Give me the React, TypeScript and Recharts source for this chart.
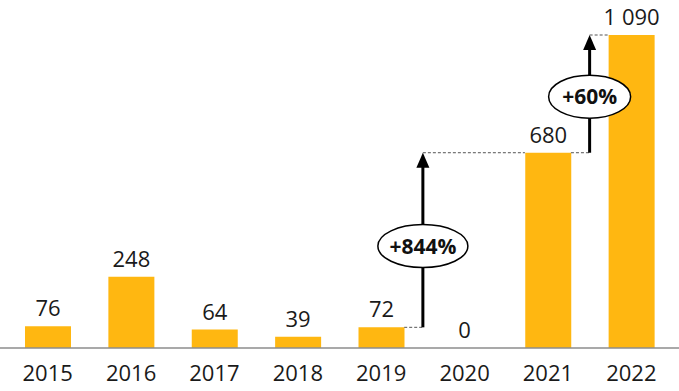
import React from 'react';
import { BarChart, Bar, XAxis, YAxis, LabelList, ReferenceLine, ReferenceDot } from 'recharts';

const years = ['2015', '2016', '2017', '2018', '2019', '2020', '2021', '2022'];
const values = [76, 248, 64, 39, 72, 0, 680, 1090];

// growth annotations
const growthLabels = ['+844%', '+60%'];
const growthFrom = [72, 680];
const growthTo = [680, 1090];
const growthX = [4.5, 6.5];
const growthLabelY = [355, 875];
const fromBarIdx = [4, 6];
const toBarIdx = [6, 7];

const data = years.map((y, i) => ({ year: y, idx: i, value: values[i] }));

const BAR = 46;
const CHART_W = 679;
const PAD = 6;
const halfBar = BAR / 2 / ((CHART_W - 2 * PAD) / years.length);

const fmt = (v: number) => String(v).replace(/\B(?=(\d{3})+(?!\d))/g, ' ');

const FONT = '"Open Sans", sans-serif';
const FS = 22;

const Arrow = (p: any) => {
  const { x1, y1, x2, y2 } = p;
  const top = Math.min(y1, y2);
  const bottom = Math.max(y1, y2);
  const head = 15;
  const hw = 6.5;
  return (
    <g>
      <line x1={x1} y1={bottom} x2={x1} y2={top + head - 1} stroke="#000" strokeWidth={3} />
      <polygon points={`${x1},${top} ${x1 - hw},${top + head} ${x1 + hw},${top + head}`} fill="#000" />
    </g>
  );
};

const makeBubble = (text: string, w: number) => (p: any) => {
  const { cx, cy } = p;
  return (
    <g>
      <ellipse cx={cx} cy={cy} rx={w / 2} ry={21.5} fill="#fff" stroke="#000" strokeWidth={1.5} />
      <text x={cx} y={cy} dy="0.36em" textAnchor="middle" fontFamily={FONT} fontWeight={700} fontSize={21} fill="#111">
        {text}
      </text>
    </g>
  );
};

const makeValueText = (v: number) => (p: any) => {
  const { cx, cy } = p;
  return (
    <text x={cx} y={cy - 10} textAnchor="middle" fontFamily={FONT} fontSize={FS} fill="#1a1a1a">
      {fmt(v)}
    </text>
  );
};

export default function App() {
  return (
    <div style={{ position: 'absolute', left: 0, top: 0, fontFamily: FONT }}>
      <BarChart width={CHART_W} height={391} data={data} margin={{ top: 35, right: 0, bottom: 0, left: 0 }}>
        <XAxis
          dataKey="year"
          height={43}
          padding={{ left: PAD, right: PAD }}
          tickLine={false}
          tickSize={0}
          tickMargin={17}
          axisLine={{ stroke: '#8c8c8c', strokeWidth: 1.5 }}
          tick={{ fill: '#1a1a1a', fontSize: FS, fontFamily: FONT }}
          interval={0}
        />
        <XAxis xAxisId="n" dataKey="idx" type="number" domain={[-0.5, 7.5]} allowDataOverflow hide padding={{ left: PAD, right: PAD }} />
        <YAxis hide domain={[0, 1090]} allowDataOverflow />
        <Bar dataKey="value" fill="#FFB711" barSize={BAR} isAnimationActive={false}>
          <LabelList
            dataKey="value"
            position="top"
            offset={10}
            formatter={(v: any) => fmt(Number(v))}
            style={{ fill: '#1a1a1a', fontSize: FS, fontFamily: FONT }}
          />
        </Bar>
        {data
          .filter((d) => d.value === 0)
          .map((d) => (
            <ReferenceDot key={`z-${d.idx}`} xAxisId="n" x={d.idx} y={d.value} r={1} shape={makeValueText(d.value)} />
          ))}
        {growthLabels.map((lab, i) => (
          <ReferenceLine
            key={`d1-${i}`}
            xAxisId="n"
            segment={[{ x: fromBarIdx[i] + halfBar, y: growthFrom[i] }, { x: growthX[i], y: growthFrom[i] }]}
            stroke="#555"
            strokeDasharray="3 2"
            strokeWidth={1}
          />
        ))}
        {growthLabels.map((lab, i) => (
          <ReferenceLine
            key={`d2-${i}`}
            xAxisId="n"
            segment={[{ x: growthX[i], y: growthTo[i] }, { x: toBarIdx[i] - halfBar, y: growthTo[i] }]}
            stroke="#555"
            strokeDasharray="3 2"
            strokeWidth={1}
          />
        ))}
        {growthLabels.map((lab, i) => (
          <ReferenceLine
            key={`a-${i}`}
            xAxisId="n"
            segment={[{ x: growthX[i], y: growthFrom[i] }, { x: growthX[i], y: growthTo[i] }]}
            shape={Arrow}
          />
        ))}
        {growthLabels.map((lab, i) => (
          <ReferenceDot
            key={`b-${i}`}
            xAxisId="n"
            x={growthX[i]}
            y={growthLabelY[i]}
            r={1}
            shape={makeBubble(lab, i === 0 ? 90 : 82)}
          />
        ))}
      </BarChart>
    </div>
  );
}
